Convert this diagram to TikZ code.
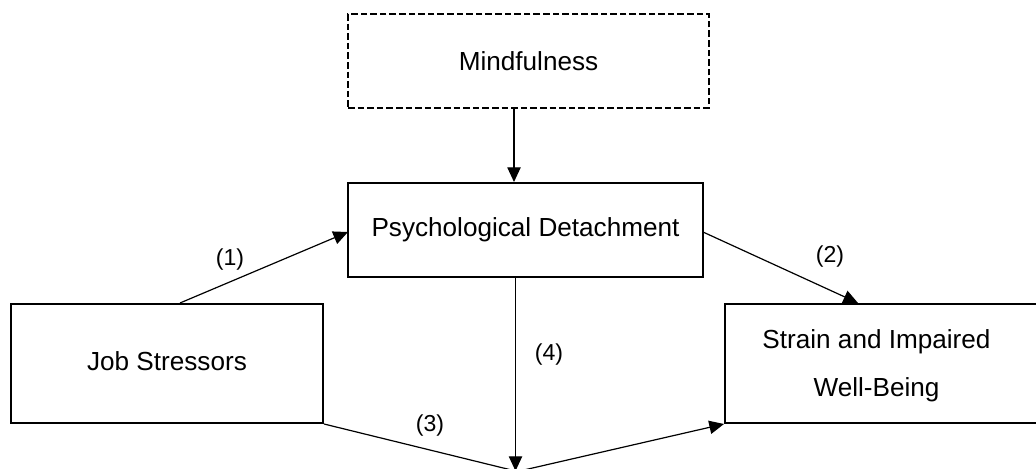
\documentclass[tikz,border=0pt]{standalone}
\usepackage{fontspec}
\setmainfont{Liberation Sans}
\usetikzlibrary{arrows.meta}
\begin{document}
\begin{tikzpicture}[x=0.75pt,y=-0.75pt,
  box/.style={draw,line width=1.5pt,rectangle,inner sep=0pt,font=\fontsize{19.6}{27}\selectfont},
  arr/.style={line width=0.9pt,-{Triangle[length=11pt,width=10pt]}},
  lab/.style={font=\fontsize{17.3}{20}\selectfont,inner sep=0pt}]
\useasboundingbox (0,0) rectangle (1036,468);
\node[box,dash pattern=on 5pt off 2.2pt,minimum width=361*0.75pt,minimum height=94*0.75pt] (mind) at (528.5,61) {Mindfulness};
\node[box,minimum width=355*0.75pt,minimum height=94*0.75pt] (pd) at (525.5,230) {\raisebox{3pt}{Psychological Detachment}};
\node[box,minimum width=312*0.75pt,minimum height=119*0.75pt] (js) at (167,363.5) {\raisebox{3pt}{Job Stressors}};
\node[box,minimum width=320*0.75pt,minimum height=119*0.75pt] (sw) at (885,363.5) {};
\node[font=\fontsize{19.6}{36}\selectfont,align=center,inner sep=0pt] (swt) at (876.5,366) {Strain and Impaired\\Well-Being};
\coordinate (vm) at (514,0);
\coordinate (v1) at (180,0);
\coordinate (v2) at (858,0);
\coordinate (v4) at (515.5,0);
\coordinate (J) at (515.5,471);
\coordinate (pdl) at (348,232);
\coordinate (pdr) at (703,232);
\draw[arr] (mind.south -| vm) -- (pd.north -| vm);
\draw[arr] (js.north -| v1) -- (pdl);
\draw[arr] (pdr) -- (sw.north -| v2);
\draw[arr] (pd.south -| v4) -- (J);
\draw[line width=0.9pt] (js.south east) -- (J);
\draw[arr] ([xshift=3pt]J) -- (sw.south west);
\node[lab] (l1) at (230,260) {(1)};
\node[lab] (l2) at (830,257) {(2)};
\node[lab] (l3) at (430,426) {(3)};
\node[lab] (l4) at (549,355) {(4)};
\end{tikzpicture}
\end{document}
